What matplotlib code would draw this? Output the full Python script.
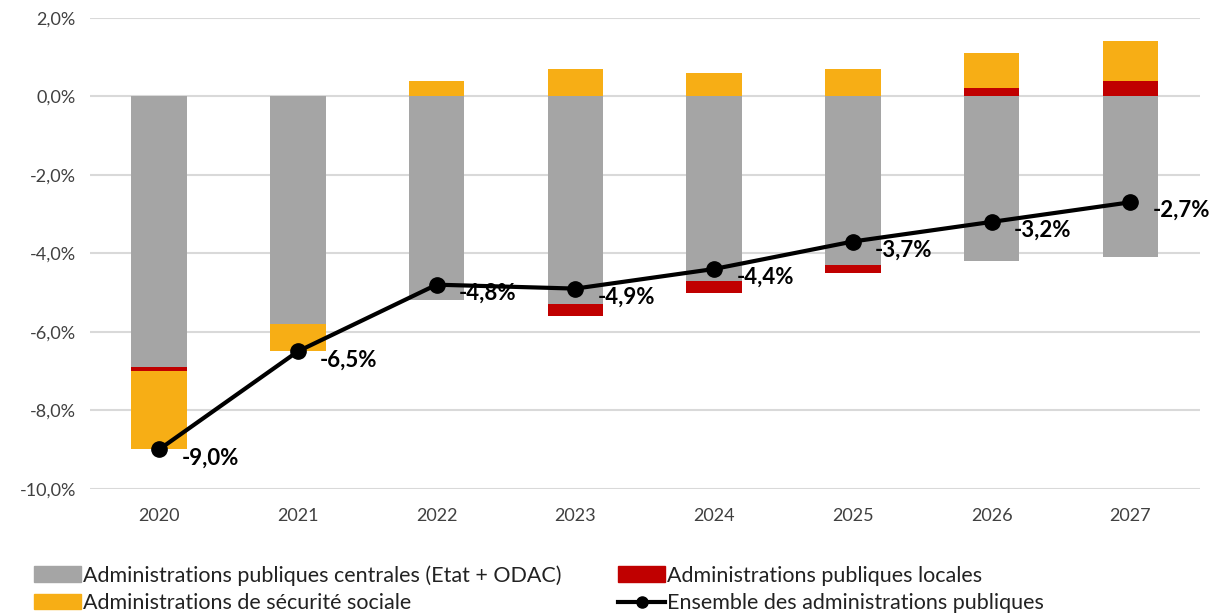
import numpy as np
import matplotlib.pyplot as plt
from matplotlib.patches import Patch
from matplotlib.lines import Line2D

# données (en % du PIB)
annees = ['2020', '2021', '2022', '2023', '2024', '2025', '2026', '2027']
apuc = [-6.9, -5.8, -5.2, -5.3, -4.7, -4.3, -4.2, -4.1]
apul = [-0.1, 0.0, 0.0, -0.3, -0.3, -0.2, 0.2, 0.4]
asso = [-2.0, -0.7, 0.4, 0.7, 0.6, 0.7, 0.9, 1.0]
total = [-9.0, -6.5, -4.8, -4.9, -4.4, -3.7, -3.2, -2.7]

c_gris = '#A5A5A5'
c_rouge = '#C00000'
c_orange = '#F7AE15'

plt.rcParams['font.family'] = ['Lato', 'DejaVu Sans']

fig = plt.figure(figsize=(12.12, 6.14), dpi=100)
ax = fig.add_axes([0.074, 0.204, 0.916, 0.767])

x = np.arange(len(annees))
w = 0.4
pos = np.zeros(len(x))
neg = np.zeros(len(x))
for vals, col in [(apuc, c_gris), (apul, c_rouge), (asso, c_orange)]:
    v = np.array(vals)
    base = np.where(v >= 0, pos, neg)
    ax.bar(x, v, w, bottom=base, color=col, zorder=2)
    pos = pos + np.where(v >= 0, v, 0)
    neg = neg + np.where(v < 0, v, 0)

ax.plot(x, total, color='black', lw=3, marker='o', ms=11, zorder=3)
for xi, t in zip(x, total):
    lab = ('%.1f%%' % t).replace('.', ',')
    ax.annotate(lab, (xi, t), xytext=(16, -6), textcoords='offset points',
                ha='left', va='center', fontsize=16, fontweight='bold', zorder=4)

ax.set_xlim(-0.5, len(x) - 0.5)
ax.set_ylim(-10, 2)
ax.set_yticks(np.arange(-10, 2.1, 2))
ax.set_yticklabels([('%.1f%%' % v).replace('.', ',') for v in np.arange(-10, 2.1, 2)])
ax.set_xticks(x)
ax.set_xticklabels(annees)
ax.tick_params(axis='both', length=0, labelsize=13, colors='#404040', pad=10)
ax.tick_params(axis='x', pad=14)
ax.grid(axis='y', color='#D9D9D9', lw=1.5, zorder=0)
ax.set_axisbelow(True)
for s in ax.spines.values():
    s.set_visible(False)

handles = [
    Patch(color=c_gris, label='Administrations publiques centrales (Etat + ODAC)'),
    Patch(color=c_orange, label='Administrations de sécurité sociale'),
    Patch(color=c_rouge, label='Administrations publiques locales'),
    Line2D([0], [0], color='black', lw=3, marker='o', ms=8, label='Ensemble des administrations publiques'),
]
fig.legend(handles=handles, ncol=2, loc='lower left', bbox_to_anchor=(0.012, -0.03),
           frameon=False, fontsize=15.5, handlelength=2.2, handleheight=0.7,
           handletextpad=0.1, columnspacing=2.6, labelspacing=0.35,
           labelcolor='#222222')

fig.savefig('out.png', dpi=100)
